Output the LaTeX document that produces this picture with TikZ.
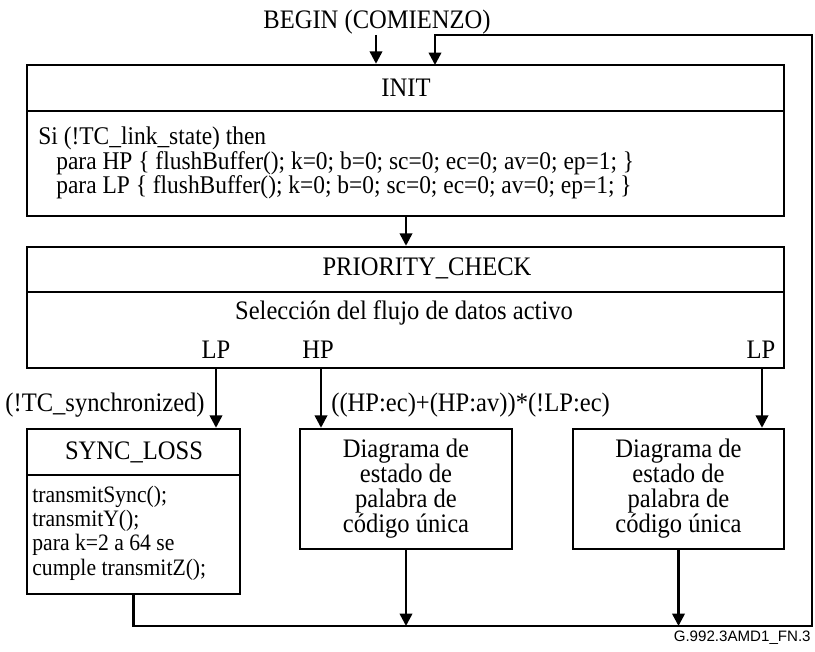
\documentclass[tikz,border=0pt]{standalone}
\usepackage{fontspec}
\setmainfont{Liberation Serif}[FakeStretch=0.92]
\newfontfamily\figlabelfont{Liberation Sans}
\usetikzlibrary{arrows.meta, fit, positioning}

\tikzset{
  frame/.style={draw, line width=1.4pt, inner sep=0pt},
  txt/.style={inner sep=0pt, font=\fontsize{15.2}{14.2}\selectfont},
  bodytxt/.style={inner sep=0pt, font=\fontsize{14.5}{14}\selectfont},
  synctxt/.style={inner sep=0pt, font=\fontsize{13.4}{13.9}\selectfont},
  flow/.style={line width=1.4pt, -{Triangle[length=7pt, width=7pt]}},
  wire/.style={line width=1.4pt},
}

\begin{document}
\begin{tikzpicture}[x=0.02cm, y=-0.02cm]
\useasboundingbox (0,0) rectangle (815,652);

% INIT
\node[txt] (begintxt) at (377,22) {BEGIN (COMIENZO)};
\node[frame, fit={(27,65) (784,216)}] (init) {};
\draw[wire] (27,111) -- (784,111);
\node[txt] (inittitle) at (406,88) {INIT};
\node[bodytxt, anchor=west] (si) at (38,138) {Si (!TC\_link\_state) then};
\node[bodytxt, anchor=west] (parahp) at (56,163) {para HP \{ flushBuffer(); k=0; b=0; sc=0; ec=0; av=0; ep=1; \}};
\node[bodytxt, anchor=west] (paralp) at (56,187) {para LP \{ flushBuffer(); k=0; b=0; sc=0; ec=0; av=0; ep=1; \}};

% PRIORITY_CHECK
\node[frame, fit={(27,247) (784,368)}] (prio) {};
\draw[wire] (27,292) -- (784,292);
\node[txt] (priotitle) at (427,268) {PRIORITY\_CHECK};
\node[txt] (select) at (404,313) {Selección del flujo de datos activo};
\node[txt] (lpleft) at (216,350) {LP};
\node[txt] (hp) at (318,350) {HP};
\node[txt] (lpright) at (761,350) {LP};

% lower states
\node[frame, fit={(27,429) (240,594)}] (sync) {};
\draw[wire] (27,475) -- (240,475);
\node[txt] (synctitle) at (134,452) {SYNC\_LOSS};
\node[synctxt, anchor=west, align=left] (synclist) at (32,533) {transmitSync();\\transmitY();\\para k=2 a 64 se\\cumple transmitZ();};
\node[frame, fit={(300,429) (512,549)}] (hpdiag) {};
\node[txt, align=center] (hpdiagtxt) at (hpdiag.center) {Diagrama de\\estado de\\palabra de\\código única};
\node[frame, fit={(573,429) (784,549)}] (lpdiag) {};
\node[txt, align=center] (lpdiagtxt) at (lpdiag.center) {Diagrama de\\estado de\\palabra de\\código única};

\node[txt, anchor=east] (condsync) at (205,405) {(!TC\_synchronized)};
\node[txt, anchor=west] (condhp) at (331,405) {((HP:ec)+(HP:av))*(!LP:ec)};

\node[inner sep=0pt, anchor=east, font=\figlabelfont\fontsize{8.6}{10}\selectfont] (figid) at (811,638) {G.992.3AMD1\_FN.3};

% connectors
\coordinate (start) at (376,35);
\coordinate (entry) at (435,65);
\coordinate (back) at (812,35);
\coordinate (busr) at (812,626);
\coordinate (initout) at (406,216);
\coordinate (lpout) at (216,368);
\coordinate (hpout) at (321,368);
\coordinate (lpout2) at (762,368);

\draw[flow] (start) -- (start |- init.north);
\draw[flow] (initout) -- (initout |- prio.north);
\draw[flow] (lpout) -- (lpout |- sync.north);
\draw[flow] (hpout) -- (hpout |- hpdiag.north);
\draw[flow] (lpout2) -- (lpout2 |- lpdiag.north);
\draw[flow] (hpdiag.south) -- (hpdiag.south |- busr);
\draw[flow] (lpdiag.south) -- (lpdiag.south |- busr);
\draw[flow] (sync.south) |- (busr) -- (back) -| (entry);
\end{tikzpicture}
\end{document}
